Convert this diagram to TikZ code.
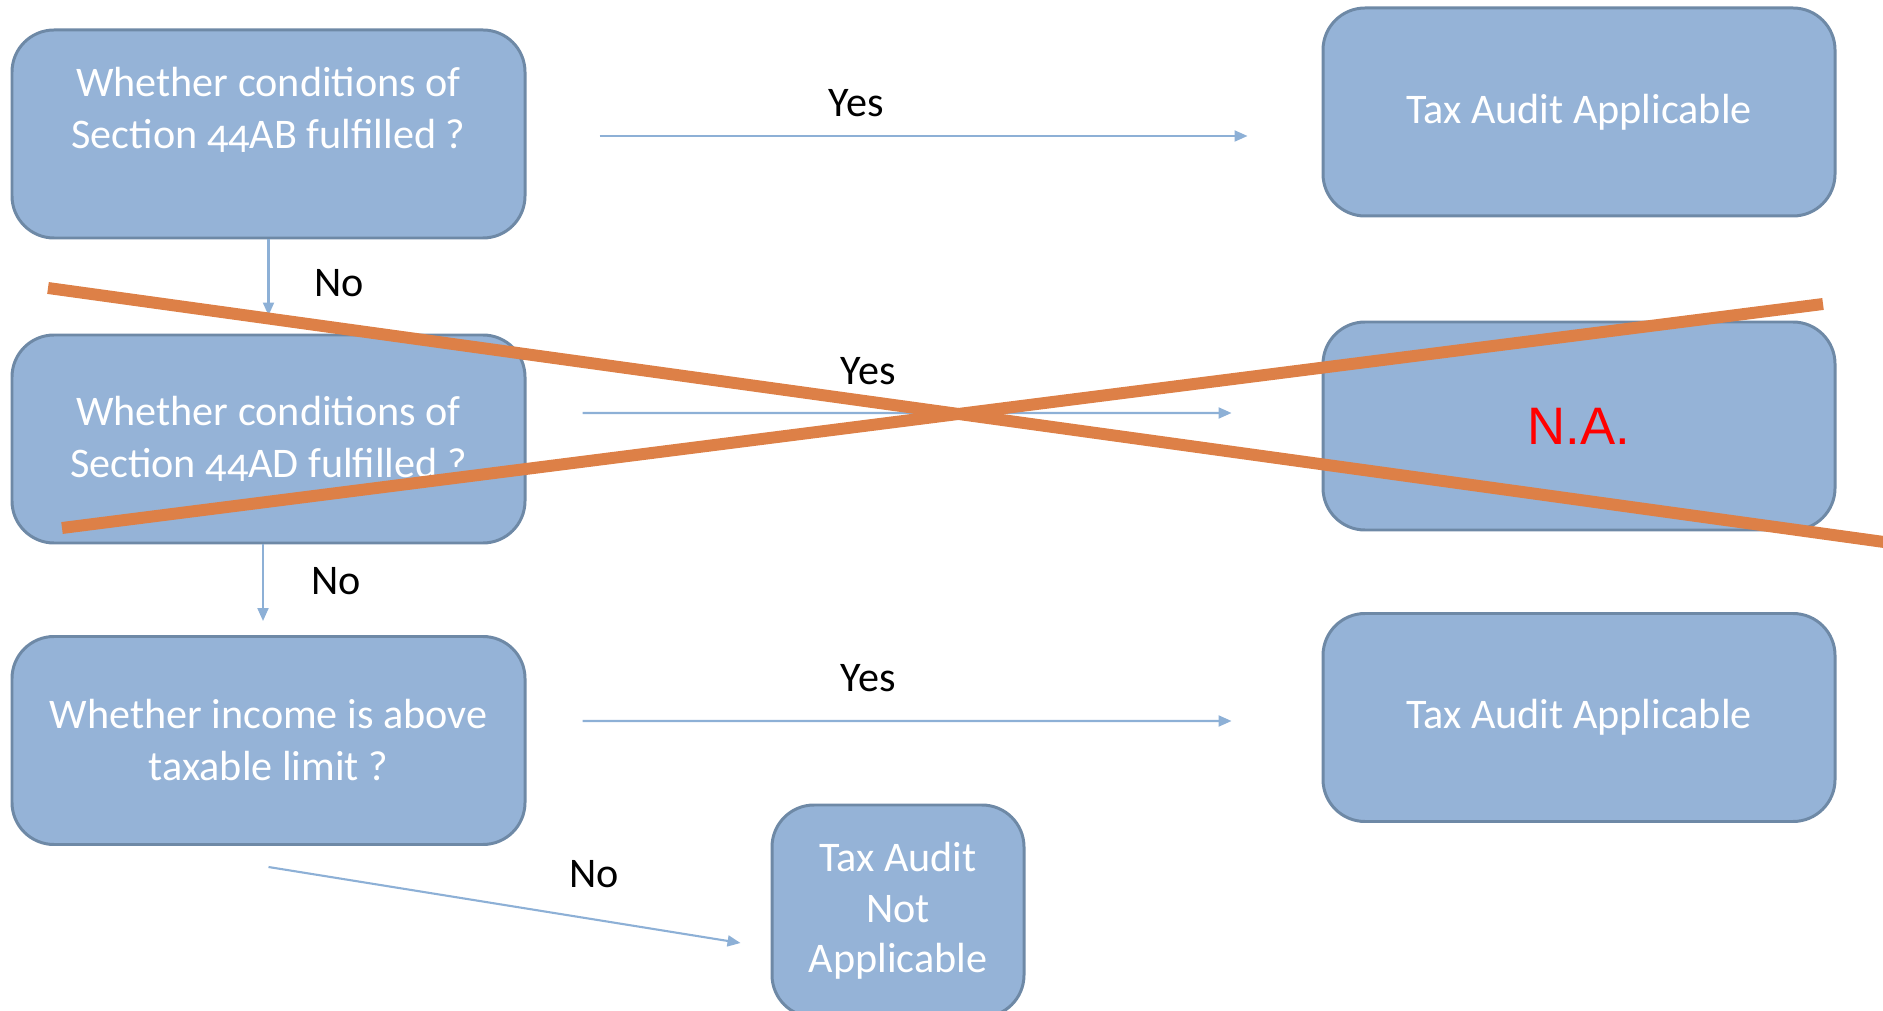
\documentclass[tikz,border=0pt]{standalone}
\usepackage{fontspec}
\setmainfont[Numbers=OldStyle]{Carlito}
\newfontfamily\nafont{Liberation Sans}
\usetikzlibrary{arrows.meta, calc}
\definecolor{boxblue}{RGB}{149, 179, 215}
\definecolor{boxedge}{RGB}{110, 137, 166}
\definecolor{arrowblue}{RGB}{141, 176, 214}
\definecolor{crossorange}{RGB}{221, 128, 71}

\begin{document}
\begin{tikzpicture}[
    decision/.style={rectangle, rounded corners=0.42cm, draw=boxedge, fill=boxblue,
                     line width=0.85pt, minimum width=5.13cm, minimum height=2.08cm,
                     align=center, text=white, font=\fontsize{12}{14.8}\selectfont},
    flow/.style={draw=arrowblue, line width=0.6pt, -{Triangle[length=0.13cm, width=0.11cm]}},
    answer/.style={font=\fontsize{12}{14.4}\selectfont, text=black},
    cross/.style={crossorange, line width=3.4pt}
]
    \useasboundingbox (0, 0) rectangle (18.83, -10.11);

    % Questions
    \node[decision] (q1) at (2.685, -1.34) {Whether conditions of\\Section 44AB fulfilled ?\\\mbox{}};
    \node[decision] (q2) at (2.685, -4.39) {Whether conditions of\\Section 44AD fulfilled ?};
    \node[decision] (q3) at (2.685, -7.405) {Whether income is above\\taxable limit ?};

    % Outcomes
    \node[decision, minimum width=5.12cm] (r1) at (15.79, -1.12) {Tax Audit Applicable};
    \node[decision, minimum width=5.12cm, font=\nafont\fontsize{15}{18}\selectfont, text=red] (r2) at (15.79, -4.26) {N.A.};
    \node[decision, minimum width=5.12cm] (r3) at (15.79, -7.175) {Tax Audit Applicable};
    \node[decision, minimum width=2.52cm, minimum height=2.12cm, font=\fontsize{12}{14.4}\selectfont] (r4) at (8.98, -9.11) {Tax Audit\\Not\\Applicable};

    % Yes branches
    \draw[flow] ($(q1.east)+(0.73, -0.02)$) -- ($(r1.west)+(-0.74, -0.24)$);
    \node[answer] (y1) at (8.56, -1.03) {Yes};
    \draw[flow] ($(q2.east)+(0.56, 0.26)$) -- ($(r2.west)+(-0.90, 0.13)$);
    \node[answer] (y2) at (8.68, -3.71) {Yes};
    \draw[flow] ($(q3.east)+(0.56, 0.195)$) -- ($(r3.west)+(-0.90, -0.035)$);
    \node[answer] (y3) at (8.68, -6.78) {Yes};

    % No branches
    \draw[flow] (q1.south) -- ($(q2.north)+(0, 0.18)$);
    \node[answer] (n1) at (3.39, -2.83) {No};
    \draw[flow] ($(q2.south)+(-0.055, 0)$) -- ($(q3.north)+(-0.055, 0.14)$);
    \node[answer] (n2) at (3.36, -5.81) {No};
    \draw[flow] ($(q3.south)+(0, -0.21)$) -- ($(r4.west)+(-0.30, -0.32)$);
    \node[answer] (n3) at (5.94, -8.74) {No};

    % Crossing out
    \draw[cross] (0.48, -2.88) -- (19.2, -5.47);
    \draw[cross] (0.62, -5.28) -- (18.23, -3.04);
\end{tikzpicture}
\end{document}
